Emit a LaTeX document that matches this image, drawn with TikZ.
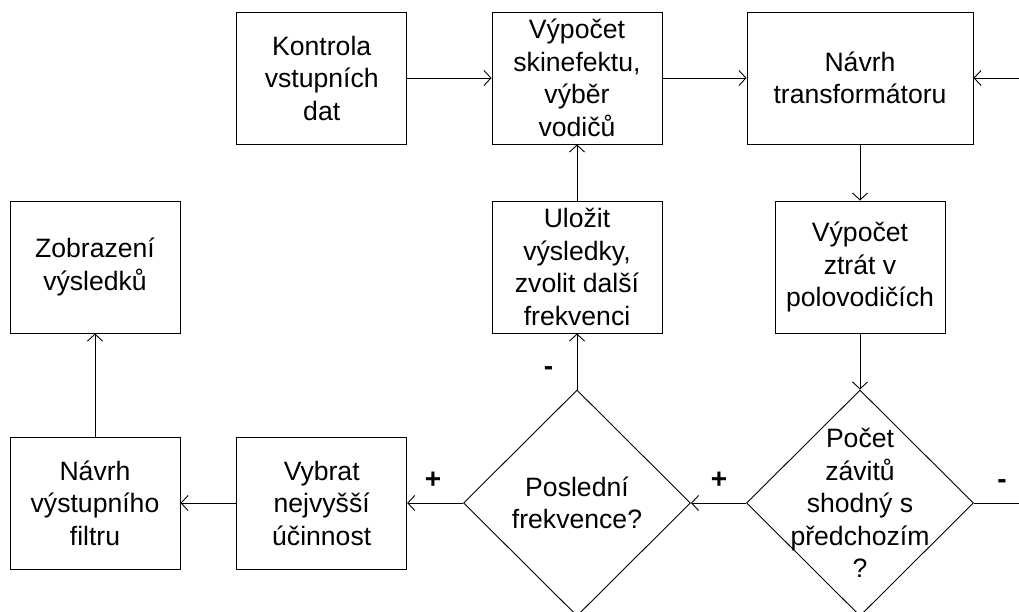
\documentclass[tikz,border=0pt]{standalone}
\usepackage{fontspec}
\setmainfont{Liberation Sans}
\usetikzlibrary{arrows.meta,shapes.geometric}
\begin{document}
\begin{tikzpicture}[x=1pt,y=-1pt,
  every node/.style={font=\fontsize{26.6}{32.5}\selectfont},
  box/.style={draw,line width=0.9pt,align=center,minimum width=170pt,minimum height=132pt,inner sep=0pt},
  wide/.style={box,minimum width=226pt},
  decision/.style={draw,line width=0.9pt,shape=diamond,minimum width=227pt,minimum height=226pt,inner sep=0pt},
  flow/.style={line width=0.9pt,-{Straight Barb[length=7pt,width=15pt]}},
  link/.style={line width=0.9pt},
  sign/.style={font=\fontsize{28}{28}\selectfont\bfseries,inner sep=0pt}]
\useasboundingbox (0,0) rectangle (1019,612);

% top row
\node[box]  (kontrola) at (321.7,78) {Kontrola\\vstupních\\dat};
\node[box]  (skin)     at (577,78)   {Výpočet\\skinefektu,\\výběr\\vodičů};
\node[wide] (trans)    at (860,78)   {Návrh\\transformátoru};

% middle row
\node[box] (zobr)   at (95,267)  {Zobrazení\\výsledků};
\node[box] (ulozit) at (577,267) {Uložit\\výsledky,\\zvolit další\\frekvenci};
\node[box] (ztraty) at (860,267) {Výpočet\\ztrát v\\polovodičích};

% bottom row
\node[box] (filtr)  at (95,503)    {Návrh\\výstupního\\filtru};
\node[box] (vybrat) at (321.7,503) {Vybrat\\nejvyšší\\účinnost};
\node[decision,label={[align=center]center:Poslední\\frekvence?}] (posl) at (577,503) {};
\node[decision,label={[align=center]center:Počet\\závitů\\shodný s\\předchozím\\?}] (pocet) at (860,503) {};

% loop back from the turns check to the transformer design
\coordinate (loopout) at (1019,503);
\coordinate (loopin)  at (1019,78);

% connectors
\draw[flow] (kontrola.east) -- (skin.west);
\draw[flow] (skin.east) -- (trans.west);
\draw[flow] (trans.south) -- (ztraty.north);
\draw[flow] (ztraty.south) -- (pocet.north);
\draw[flow] (pocet.west) -- (posl.east);
\draw[flow] (posl.west) -- (vybrat.east);
\draw[flow] (vybrat.west) -- (filtr.east);
\draw[flow] (filtr.north) -- (zobr.south);
\draw[flow] (posl.north) -- (ulozit.south);
\draw[flow] (ulozit.north) -- (skin.south);
\draw[link] (pocet.east) -- (loopout);
\draw[flow] (loopin) -- (trans.east);

% branch signs
\node[sign] (p1) at (433,480)  {+};
\node[sign] (p2) at (719,480)  {+};
\node[sign] (m1) at (548.5,371) {-};
\node[sign] (m2) at (1002,484) {-};
\end{tikzpicture}
\end{document}
